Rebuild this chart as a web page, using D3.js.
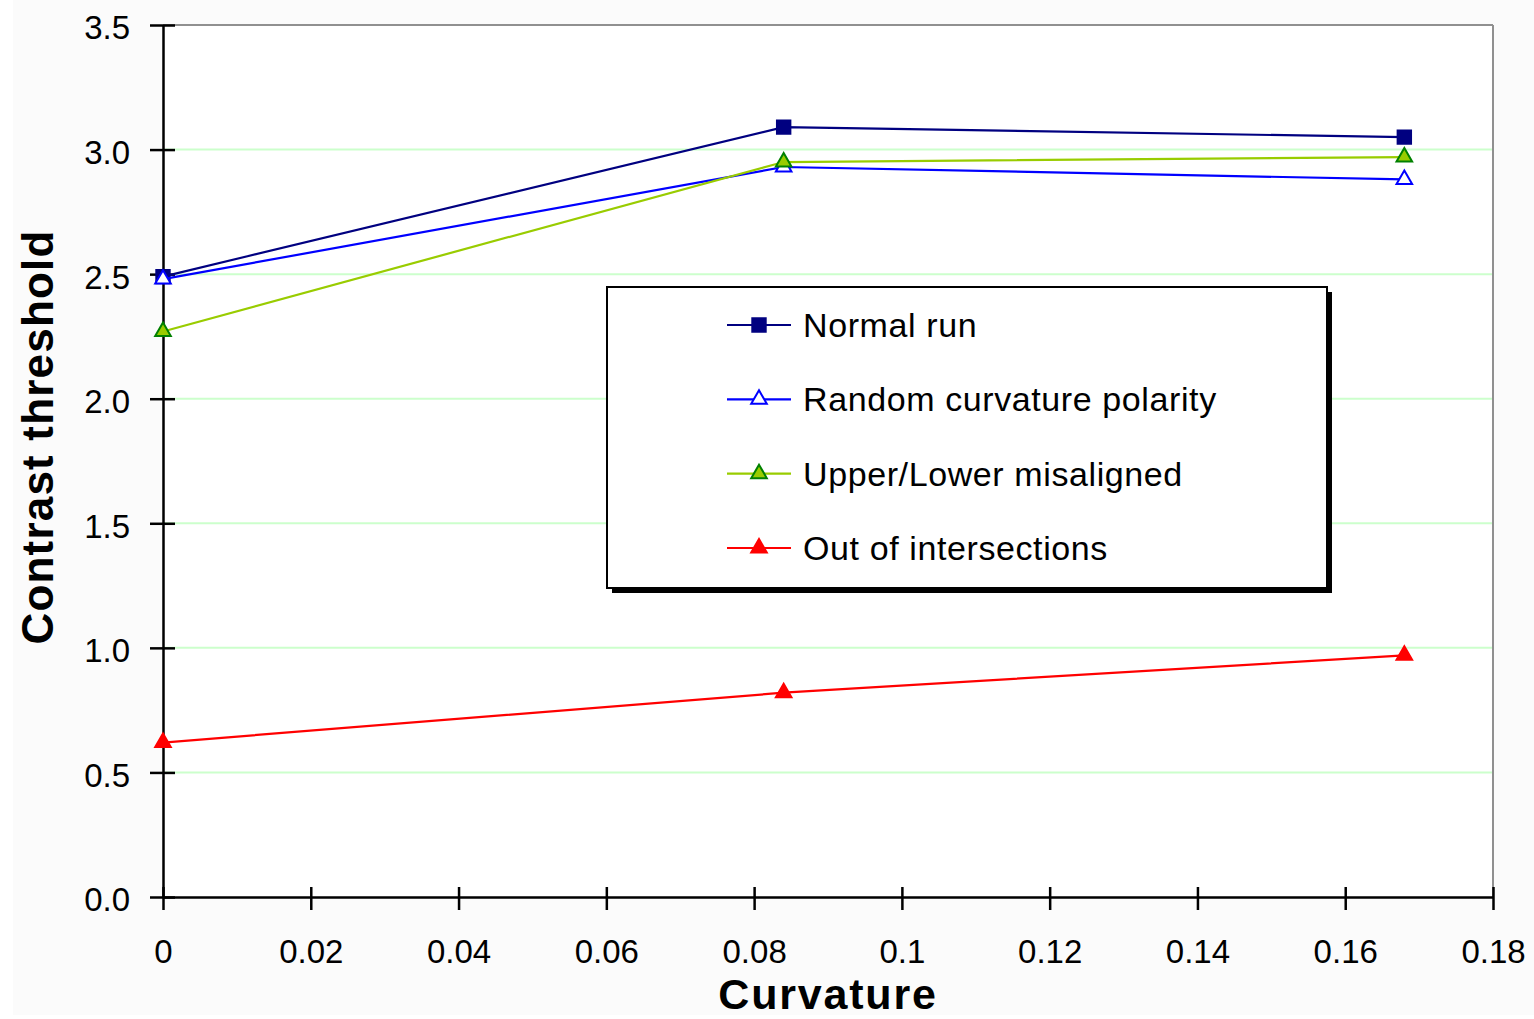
<!DOCTYPE html>
<html>
<head>
<meta charset="utf-8">
<script src="https://cdn.jsdelivr.net/npm/d3@7"></script>
<style>
  html, body { margin: 0; padding: 0; background: #ffffff; }
  svg { display: block; }
  text { font-family: "Liberation Sans", Arial, sans-serif; fill: #000; }
</style>
</head>
<body>
<svg id="chart" width="1534" height="1019"></svg>
<script>
// ---- data ----
const curvature = [0, 0.084, 0.168];
const seriesNames = ["Normal run", "Random curvature polarity", "Upper/Lower misaligned", "Out of intersections"];
const normalRun = [2.49, 3.09, 3.05];
const randomPolarity = [2.48, 2.93, 2.88];
const upperLowerMisaligned = [2.27, 2.95, 2.97];
const outOfIntersections = [0.62, 0.82, 0.97];
const xTickValues = [0, 0.02, 0.04, 0.06, 0.08, 0.1, 0.12, 0.14, 0.16, 0.18];
const xTickLabels = ["0", "0.02", "0.04", "0.06", "0.08", "0.1", "0.12", "0.14", "0.16", "0.18"];
const yTickValues = [0, 0.5, 1, 1.5, 2, 2.5, 3, 3.5];
const yTickLabels = ["0.0", "0.5", "1.0", "1.5", "2.0", "2.5", "3.0", "3.5"];
const xTitle = "Curvature";
const yTitle = "Contrast threshold";

// ---- styles ----
const styles = [
  { line: "#000080", fill: "#000080", stroke: "#000080", shape: "square" },
  { line: "#0000ff", fill: "#ffffff", stroke: "#0000ff", shape: "triangle" },
  { line: "#99cc00", fill: "#99cc00", stroke: "#008000", shape: "triangle" },
  { line: "#ff0000", fill: "#ff0000", stroke: "#ff0000", shape: "triangle" }
];
const allSeries = [normalRun, randomPolarity, upperLowerMisaligned, outOfIntersections];

const svg = d3.select("#chart");
const L = 163, R = 1493, T = 25, B = 897;

svg.append("rect").attr("x", 13).attr("y", 0).attr("width", 1521).attr("height", 1015).attr("fill", "#fbfbfb");
svg.append("rect").attr("x", L).attr("y", T).attr("width", R - L).attr("height", B - T).attr("fill", "#ffffff");

const x = d3.scaleLinear().domain([0, 0.18]).range([L, R]);
const y = d3.scaleLinear().domain([0, 3.5]).range([B, T]);

// gridlines
svg.append("g").selectAll("line")
  .data(yTickValues.filter(v => v > 0 && v < 3.5))
  .join("line")
  .attr("x1", L).attr("x2", R)
  .attr("y1", d => y(d)).attr("y2", d => y(d))
  .attr("stroke", "#ccffcc").attr("stroke-width", 2);

// plot border (top and right)
svg.append("line").attr("x1", L).attr("x2", R).attr("y1", T).attr("y2", T).attr("stroke", "#909090").attr("stroke-width", 2);
svg.append("line").attr("x1", R).attr("x2", R).attr("y1", T).attr("y2", B).attr("stroke", "#909090").attr("stroke-width", 2);

// y axis
const yAxis = d3.axisLeft(y).tickValues(yTickValues)
  .tickFormat((d, i) => yTickLabels[i]).tickSizeInner(13).tickSizeOuter(0).tickPadding(20);
const gy = svg.append("g").attr("transform", `translate(${L},0)`).call(yAxis);
gy.select(".domain").attr("stroke", "#000").attr("stroke-width", 2.5);
gy.selectAll(".tick line").attr("stroke", "#000").attr("stroke-width", 2.5).attr("x2", 12).attr("x1", -13);
gy.selectAll(".tick text").attr("font-size", 33).attr("dy", "0.42em").attr("x", -33)
  .style("font-family", "'Liberation Sans', Arial, sans-serif").attr("fill", "#000");

// x axis
const xAxis = d3.axisBottom(x).tickValues(xTickValues)
  .tickFormat((d, i) => xTickLabels[i]).tickSizeInner(13).tickSizeOuter(0).tickPadding(20);
const gx = svg.append("g").attr("transform", `translate(0,${B})`).call(xAxis);
gx.select(".domain").attr("stroke", "#000").attr("stroke-width", 2.5);
gx.selectAll(".tick line").attr("stroke", "#000").attr("stroke-width", 2.5).attr("y1", -10).attr("y2", 13);
gx.selectAll(".tick text").attr("font-size", 33).attr("dy", 0).attr("y", 66)
  .style("font-family", "'Liberation Sans', Arial, sans-serif").attr("fill", "#000");

// axis titles
svg.append("text").attr("x", x(0.09)).attr("y", 1009).attr("text-anchor", "middle")
  .attr("font-size", 43).attr("font-weight", "bold").attr("letter-spacing", 1.8).text(xTitle);
svg.append("text").attr("transform", "translate(53,437) rotate(-90)").attr("text-anchor", "middle")
  .attr("font-size", 44).attr("font-weight", "bold").attr("letter-spacing", 1.2).text(yTitle);

// symbols
function symbolPath(shape) {
  return shape === "square"
    ? d3.symbol(d3.symbolSquare, 180)()
    : d3.symbol(d3.symbolTriangle, 105)();
}

const line = d3.line().x((d, i) => x(curvature[i])).y(d => y(d));
allSeries.forEach((vals, si) => {
  const st = styles[si];
  const g = svg.append("g");
  g.append("path").datum(vals).attr("d", line).attr("fill", "none")
    .attr("stroke", st.line).attr("stroke-width", 2.2);
  g.selectAll("path.m").data(vals).join("path").attr("class", "m")
    .attr("d", symbolPath(st.shape))
    .attr("transform", (d, i) => `translate(${x(curvature[i])},${y(d)})`)
    .attr("fill", st.fill).attr("stroke", st.stroke).attr("stroke-width", 2);
});

// legend
const lg = svg.append("g");
lg.append("rect").attr("x", 612).attr("y", 292).attr("width", 720).attr("height", 301).attr("fill", "#000");
lg.append("rect").attr("x", 607).attr("y", 287).attr("width", 720).attr("height", 301)
  .attr("fill", "#ffffff").attr("stroke", "#000").attr("stroke-width", 2);
const rowY = d3.scalePoint().domain(seriesNames).range([325, 548]);
seriesNames.forEach((name, si) => {
  const st = styles[si];
  const cy = rowY(name);
  lg.append("line").attr("x1", 727).attr("x2", 791).attr("y1", cy).attr("y2", cy)
    .attr("stroke", st.line).attr("stroke-width", 2.2);
  lg.append("path").attr("d", symbolPath(st.shape)).attr("transform", `translate(759,${cy})`)
    .attr("fill", st.fill).attr("stroke", st.stroke).attr("stroke-width", 2);
  lg.append("text").attr("x", 803).attr("y", cy + 12).attr("font-size", 34)
    .attr("letter-spacing", 0.6).text(name);
});
</script>
</body>
</html>
